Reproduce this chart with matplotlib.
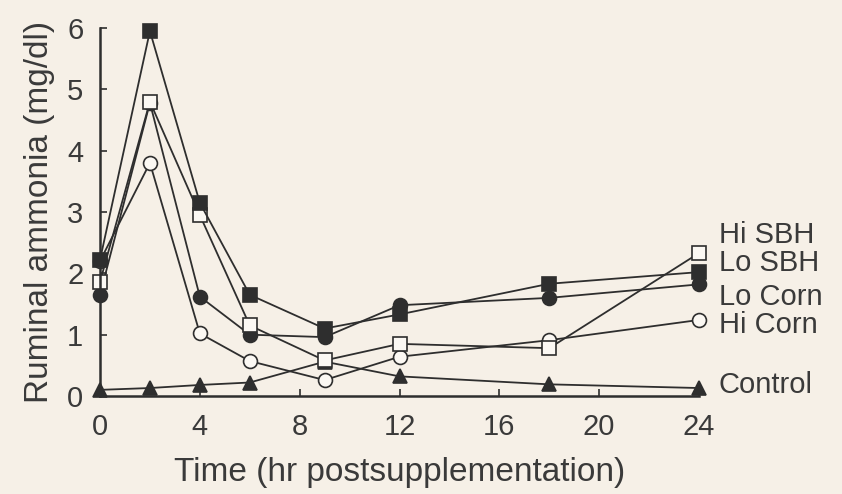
import matplotlib
matplotlib.use("Agg")
import matplotlib.pyplot as plt

time_hr = [0, 2, 4, 6, 9, 12, 18, 24]
hi_sbh = [1.86, 4.80, 2.95, 1.15, 0.58, 0.85, 0.78, 2.33]
lo_sbh = [2.22, 5.95, 3.15, 1.65, 1.10, 1.33, 1.83, 2.02]
lo_corn = [1.65, 4.78, 1.62, 1.00, 0.96, 1.48, 1.60, 1.82]
hi_corn = [2.20, 3.80, 1.02, 0.57, 0.26, 0.64, 0.91, 1.24]
control = [0.10, 0.13, 0.18, 0.22, 0.56, 0.32, 0.19, 0.13]

series_labels = ["Hi SBH", "Lo SBH", "Lo Corn", "Hi Corn", "Control"]
label_y = [2.63, 2.17, 1.62, 1.16, 0.18]

xticks = [0, 4, 8, 12, 16, 20, 24]
yticks = [0, 1, 2, 3, 4, 5, 6]

bg = "#f6f0e7"
ink = "#2e2e2e"
txt = "#3a3a3a"
plt.rcParams['font.family'] = ['Liberation Sans', 'DejaVu Sans']

fig = plt.figure(figsize=(8.42, 4.94), dpi=100, facecolor=bg)
ax = fig.add_axes([100/842, 98/494, 599/842, 368/494])
ax.set_facecolor(bg)

common = dict(color=ink, lw=1.3, markersize=10, markeredgewidth=1.2,
              markeredgecolor=ink, clip_on=False)
ax.plot(time_hr, control, marker='^', markerfacecolor=ink, **common)
ax.plot(time_hr, hi_corn, marker='o', markerfacecolor='#fbf8f3', **common)
ax.plot(time_hr, lo_corn, marker='o', markerfacecolor=ink, **common)
ax.plot(time_hr, hi_sbh, marker='s', markerfacecolor='#fbf8f3', **common)
ax.plot(time_hr, lo_sbh, marker='s', markerfacecolor=ink, **common)

for lab, y in zip(series_labels, label_y):
    ax.text(24.8, y, lab, fontsize=21, color=txt, va='center', ha='left',
            clip_on=False)

ax.set_xlim(0, 24)
ax.set_ylim(0, 6)
ax.set_xticks(xticks)
ax.set_yticks(yticks)
ax.tick_params(direction='in', length=5, width=1.2, colors=ink,
               labelsize=21, labelcolor=txt)
ax.tick_params(axis='x', pad=12)
ax.tick_params(axis='y', pad=12)
for s in ['top', 'right']:
    ax.spines[s].set_visible(False)
for s in ['left', 'bottom']:
    ax.spines[s].set_linewidth(1.8)
    ax.spines[s].set_color(ink)

ax.set_xlabel("Time (hr postsupplementation)", fontsize=24, color=txt, labelpad=12)
ax.set_ylabel("Ruminal ammonia (mg/dl)", fontsize=24, color=txt, labelpad=9)

fig.savefig("out.png", dpi=100, facecolor=bg)
